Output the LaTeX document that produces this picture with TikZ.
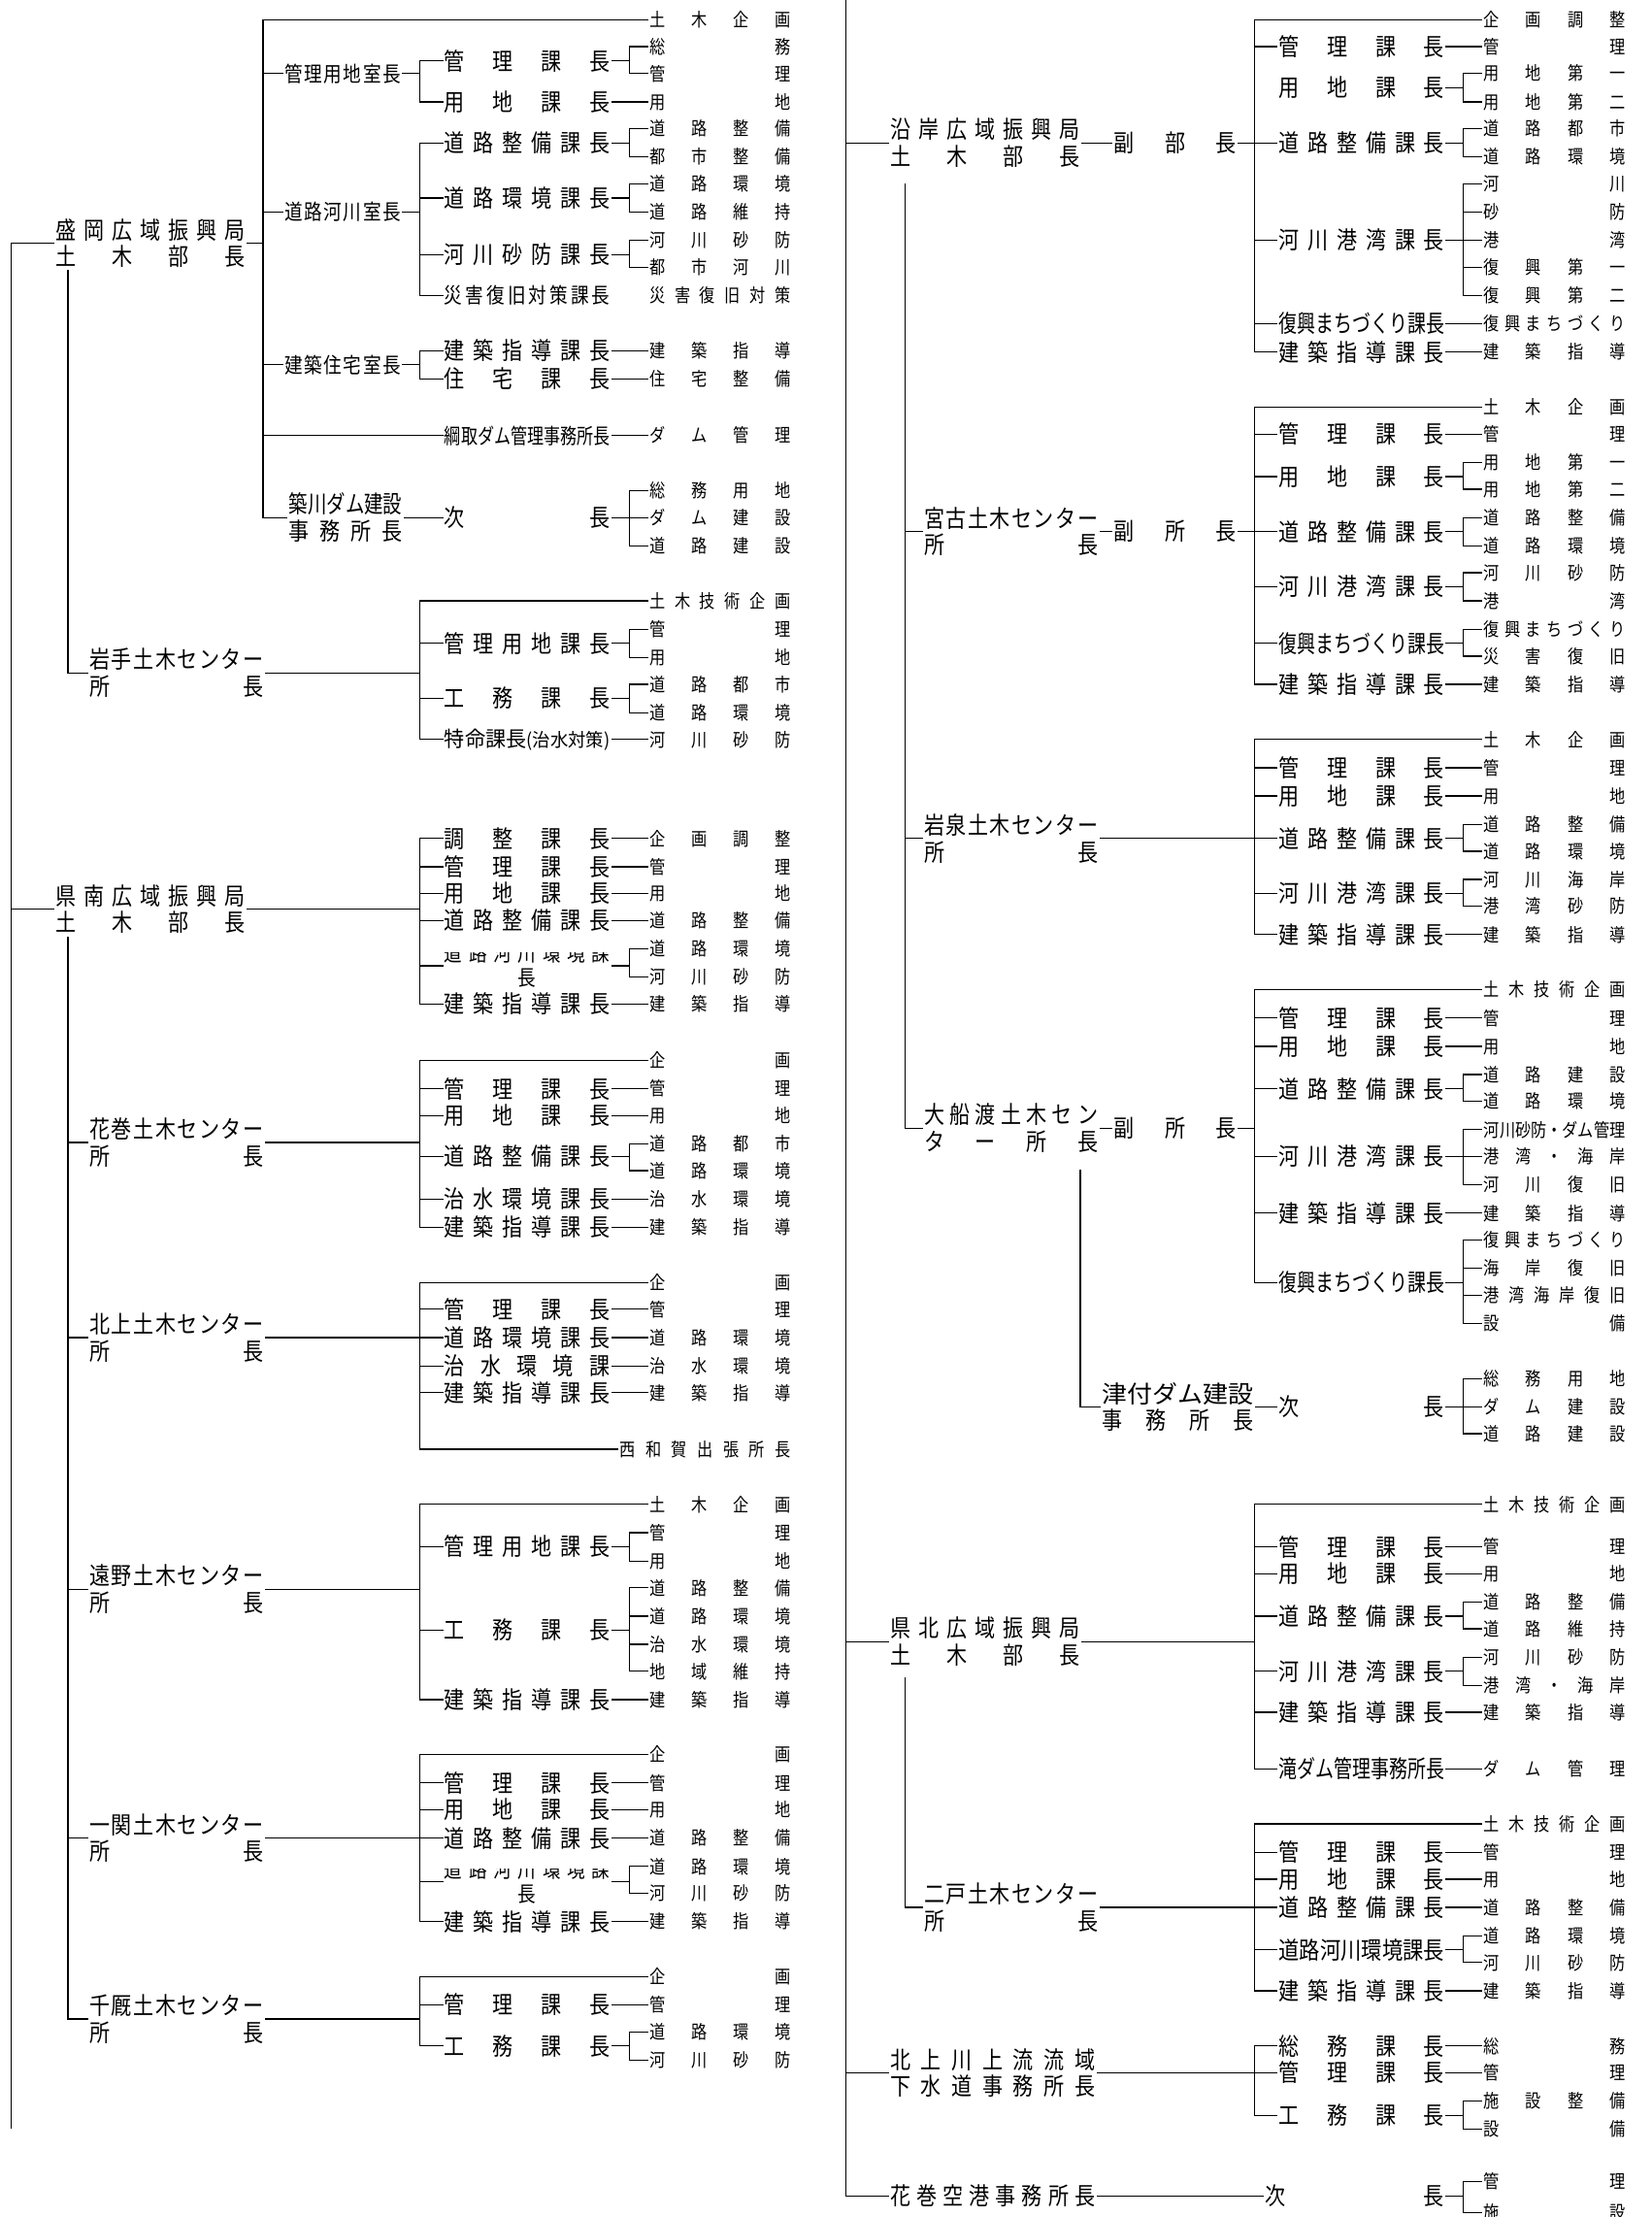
\documentclass[tikz,border=0pt]{standalone}
\usepackage{fontspec}
\usepackage{graphicx}
\setmainfont[FakeStretch=0.85]{Noto Sans CJK JP}
\newlength\unitpx
\setlength\unitpx{0.025cm}
\newcommand\spreadbox[2]{\makebox[#1\unitpx][s]{\spaceskip=0pt plus 1fil\relax #2}}
\newcommand\fitbox[2]{\resizebox{#1\unitpx}{\height}{#2}}
\newcommand\chieffont{\fontsize{12.1pt}{13.5pt}\selectfont}
\newcommand\bossfont{\fontsize{12.1pt}{13.5pt}\selectfont}
\newcommand\minorfont{\fontsize{10.7pt}{12pt}\selectfont}
\newcommand\tipfont{\fontsize{9.3pt}{11pt}\selectfont}
\newcommand\branch[3]{%
  \draw (#1.east) -- (#1.east -| #2);
  \foreach \kid [count=\i] in {#3}{%
    \ifnum\i=1 \xdef\firstkid{\kid}\fi
    \xdef\lastkid{\kid}%
    \draw (\kid.west -| #2) -- (\kid.west);}%
  \draw (\firstkid.west -| #2) -- (\lastkid.west -| #2);}
\tikzset{
  chief/.style={font=\chieffont, align=left},
  boss/.style={font=\bossfont},
  minor/.style={font=\minorfont},
  tip/.style={font=\tipfont},
}
\begin{document}
\begin{tikzpicture}[x=0.025cm, y=-0.025cm, line width=0.6pt, line cap=rect,
  every node/.style={anchor=west, inner sep=0pt, outer xsep=1pt}]
  \useasboundingbox (0,0) rectangle (1168,1568);
  \coordinate (outerL) at (8,0);
  \coordinate (outerLend) at (8,1505);
  \coordinate (busA) at (186,0);
  \coordinate (busB) at (297,0);
  \coordinate (busC) at (445,0);
  \coordinate (m-drop) at (48,191);
  \coordinate (s-drop) at (48,663);

  \node[chief] (morioka) at (38,172) {\spreadbox{134}{盛 岡 広 域 振 興 局}\\\spreadbox{134}{土 木 部 長}};
  \node[chief] (kennan) at (38,643) {\spreadbox{134}{県 南 広 域 振 興 局}\\\spreadbox{134}{土 木 部 長}};
  \foreach \nm/\yy/\tx in {iwate/476/岩 手 土 木 セ ン タ ー, hanamaki/808/花 巻 土 木 セ ン タ ー,
      kitakami/946/北 上 土 木 セ ン タ ー, tono/1124/遠 野 土 木 セ ン タ ー,
      ichinoseki/1300/一 関 土 木 セ ン タ ー, senmaya/1428/千 厩 土 木 セ ン タ ー}
    \node[chief] (\nm) at (62,\yy) {\spreadbox{123}{\tx}\\\spreadbox{123}{所 長}};

  \foreach \nm/\yy/\tx in {m-kanri/52/管 理 用 地 室 長, m-doro/150/道 路 河 川 室 長, m-kenchiku/258/建 築 住 宅 室 長}
    \node[minor] (\nm) at (200,\yy) {\spreadbox{82}{\tx}};
  \node[boss, align=left] (m-yanagawa) at (203,366) {\fitbox{80}{築川ダム建設}\\\spreadbox{80}{事 務 所 長}};

  \foreach \nm/\yy/\tx in {m-kanri1/43/管 理 課 長, m-yochi1/72/用 地 課 長, m-d1/101/道 路 整 備 課 長,
      m-d2/140/道 路 環 境 課 長, m-d3/180/河 川 砂 防 課 長, m-k1/248/建 築 指 導 課 長,
      m-k2/268/住 宅 課 長, m-ysub/366/次 長, i-1/455/管 理 用 地 課 長, i-2/494/工 務 課 長,
      s-1/593/調 整 課 長, s-2/613/管 理 課 長, s-3/632/用 地 課 長, s-4/651/道 路 整 備 課 長,
      s-6/710/建 築 指 導 課 長, h-1/770/管 理 課 長, h-2/789/用 地 課 長, h-3/818/道 路 整 備 課 長,
      h-4/848/治 水 環 境 課 長, h-5/868/建 築 指 導 課 長, k-1/926/管 理 課 長, k-2/946/道 路 環 境 課 長,
      k-3/966/治 水 環 境 課, k-4/985/建 築 指 導 課 長, t-1/1094/管 理 用 地 課 長, t-2/1153/工 務 課 長,
      t-3/1202/建 築 指 導 課 長, c-1/1261/管 理 課 長, c-2/1280/用 地 課 長, c-3/1300/道 路 整 備 課 長,
      c-5/1359/建 築 指 導 課 長, e-1/1418/管 理 課 長, e-2/1447/工 務 課 長}
    \node[boss] (\nm) at (313,\yy) {\spreadbox{117}{\tx}};
  \node[minor] (m-d4) at (313,209) {\spreadbox{117}{災 害 復 旧 対 策 課 長}};
  \node[minor] (m-amitori) at (313,308) {\fitbox{117}{綱取ダム管理事務所長}};
  \node[minor] (i-3) at (313,523) {\fitbox{117}{特命課長{\tipfont(治水対策)}}};
  \begin{scope}
    \clip (300,674) rectangle (440,705);
    \node[minor, align=center] (s-5) at (313,683) {\spreadbox{117}{道 路 河 川 環 境 課}\\長};
  \end{scope}
  \begin{scope}
    \clip (300,1322) rectangle (440,1353);
    \node[minor, align=center] (c-4) at (313,1331) {\spreadbox{117}{道 路 河 川 環 境 課}\\長};
  \end{scope}

  \foreach \nm/\yy/\tx in {m-plan/14/土 木 企 画, m-t1/33/総 務, m-t2/52/管 理, m-t3/72/用 地,
      m-t4/91/道 路 整 備, m-t5/111/都 市 整 備, m-t6/130/道 路 環 境, m-t7/150/道 路 維 持,
      m-t8/170/河 川 砂 防, m-t9/189/都 市 河 川, m-t10/209/災 害 復 旧 対 策, m-t11/248/建 築 指 導,
      m-t12/268/住 宅 整 備, m-t13/308/ダ ム 管 理, m-t14/347/総 務 用 地, m-t15/366/ダ ム 建 設,
      m-t16/386/道 路 建 設, i-plan/425/土 木 技 術 企 画, i-t1/445/管 理, i-t2/465/用 地,
      i-t3/484/道 路 都 市, i-t4/504/道 路 環 境, i-t5/523/河 川 砂 防,
      s-t1/593/企 画 調 整, s-t2/613/管 理, s-t3/632/用 地, s-t4/651/道 路 整 備,
      s-t5/671/道 路 環 境, s-t6/691/河 川 砂 防, s-t7/710/建 築 指 導,
      h-plan/750/企 画, h-t1/770/管 理, h-t2/789/用 地, h-t3/809/道 路 都 市,
      h-t4/828/道 路 環 境, h-t5/848/治 水 環 境, h-t6/868/建 築 指 導,
      k-plan/907/企 画, k-t1/926/管 理, k-t2/946/道 路 環 境, k-t3/966/治 水 環 境, k-t4/985/建 築 指 導,
      t-plan/1064/土 木 企 画, t-t1/1084/管 理, t-t2/1104/用 地, t-t3/1123/道 路 整 備,
      t-t4/1143/道 路 環 境, t-t5/1163/治 水 環 境, t-t6/1182/地 域 維 持, t-t7/1202/建 築 指 導,
      c-plan/1241/企 画, c-t1/1261/管 理, c-t2/1280/用 地, c-t3/1300/道 路 整 備,
      c-t4/1320/道 路 環 境, c-t5/1339/河 川 砂 防, c-t6/1359/建 築 指 導,
      e-plan/1398/企 画, e-t1/1418/管 理, e-t2/1437/道 路 環 境, e-t3/1457/河 川 砂 防}
    \node[tip] (\nm) at (458,\yy) {\spreadbox{100}{\tx}};
  \node[tip] (k-nishiwaga) at (437,1025) {\spreadbox{121}{西 和 賀 出 張 所 長}};

  \draw (morioka.west) -| (outerLend);
  \draw (kennan.west) -- (kennan.west -| outerL);
  \draw (m-drop) |- (iwate.west);
  \draw (s-drop) |- (senmaya.west);
  \foreach \kid in {hanamaki,kitakami,tono,ichinoseki}
    \draw (\kid.west -| s-drop) -- (\kid.west);
  \branch{morioka}{busA}{m-plan,m-kanri,m-doro,m-kenchiku,m-amitori,m-yanagawa}
  \branch{m-kanri}{busB}{m-kanri1,m-yochi1}
  \branch{m-kanri1}{busC}{m-t1,m-t2}
  \branch{m-doro}{busB}{m-d1,m-d2,m-d3,m-d4}
  \branch{m-d1}{busC}{m-t4,m-t5}
  \branch{m-d2}{busC}{m-t6,m-t7}
  \branch{m-d3}{busC}{m-t8,m-t9}
  \branch{m-kenchiku}{busB}{m-k1,m-k2}
  \branch{m-ysub}{busC}{m-t14,m-t15,m-t16}
  \branch{iwate}{busB}{i-plan,i-1,i-2,i-3}
  \branch{i-1}{busC}{i-t1,i-t2}
  \branch{i-2}{busC}{i-t3,i-t4}
  \branch{kennan}{busB}{s-1,s-2,s-3,s-4,s-5,s-6}
  \branch{s-5}{busC}{s-t5,s-t6}
  \branch{hanamaki}{busB}{h-plan,h-1,h-2,h-3,h-4,h-5}
  \branch{h-3}{busC}{h-t3,h-t4}
  \branch{kitakami}{busB}{k-plan,k-1,k-2,k-3,k-4,k-nishiwaga}
  \branch{tono}{busB}{t-plan,t-1,t-2,t-3}
  \branch{t-1}{busC}{t-t1,t-t2}
  \branch{t-2}{busC}{t-t3,t-t4,t-t5,t-t6}
  \branch{ichinoseki}{busB}{c-plan,c-1,c-2,c-3,c-4,c-5}
  \branch{c-4}{busC}{c-t4,c-t5}
  \branch{senmaya}{busB}{e-plan,e-1,e-2}
  \branch{e-2}{busC}{e-t2,e-t3}
  \foreach \a/\b in {m-yochi1/m-t3, m-k1/m-t11, m-k2/m-t12, m-amitori/m-t13, m-yanagawa/m-ysub,
      i-3/i-t5, s-1/s-t1, s-2/s-t2, s-3/s-t3, s-4/s-t4, s-6/s-t7, h-1/h-t1, h-2/h-t2, h-4/h-t5,
      h-5/h-t6, k-1/k-t1, k-2/k-t2, k-3/k-t3, k-4/k-t4, t-3/t-t7, c-1/c-t1, c-2/c-t2, c-3/c-t3,
      c-5/c-t6, e-1/e-t1}
    \draw (\a.east) -- (\b.west);

  \begin{scope}[xshift=14.75cm]
    \coordinate (outerRtop) at (8,0);
    \coordinate (rbusB) at (297,0);
    \coordinate (rbusC) at (445,0);
    \coordinate (n-drop) at (50,130);
    \coordinate (o-drop) at (174,828);
    \coordinate (p-drop) at (50,1187);

    \node[chief] (engan) at (38,101) {\spreadbox{134}{沿 岸 広 域 振 興 局}\\\spreadbox{134}{土 木 部 長}};
    \node[chief] (kenpoku) at (38,1161) {\spreadbox{134}{県 北 広 域 振 興 局}\\\spreadbox{134}{土 木 部 長}};
    \node[chief] (gesui) at (38,1466) {\spreadbox{145}{北 上 川 上 流 流 域}\\\spreadbox{145}{下 水 道 事 務 所 長}};
    \node[chief] (airport) at (38,1553) {\spreadbox{145}{花 巻 空 港 事 務 所 長}};
    \foreach \nm/\yy/\tx in {miyako/376/宮 古 土 木 セ ン タ ー, iwaizumi/593/岩 泉 土 木 セ ン タ ー,
        ninohe/1349/二 戸 土 木 セ ン タ ー}
      \node[chief] (\nm) at (62,\yy) {\spreadbox{123}{\tx}\\\spreadbox{123}{所 長}};
    \node[chief] (ofunato) at (62,798) {\spreadbox{123}{大 船 渡 土 木 セ ン}\\\spreadbox{123}{タ ー 所 長}};
    \foreach \nm/\yy/\tx in {n-dep/101/副 部 長, q-dep/376/副 所 長, o-dep/798/副 所 長}
      \node[boss] (\nm) at (196,\yy) {\spreadbox{87}{\tx}};
    \node[boss, align=left] (tsuzuki) at (188,995) {\fitbox{107}{津付ダム建設}\\\spreadbox{107}{事 務 所 長}};

    \foreach \nm/\yy/\tx in {n-1/33/管 理 課 長, n-2/62/用 地 課 長, n-3/101/道 路 整 備 課 長,
        n-4/170/河 川 港 湾 課 長, n-6/249/建 築 指 導 課 長, q-1/307/管 理 課 長, q-2/337/用 地 課 長,
        q-3/376/道 路 整 備 課 長, q-4/415/河 川 港 湾 課 長, q-6/484/建 築 指 導 課 長,
        w-1/543/管 理 課 長, w-2/563/用 地 課 長, w-3/593/道 路 整 備 課 長, w-4/632/河 川 港 湾 課 長,
        w-5/661/建 築 指 導 課 長, o-1/720/管 理 課 長, o-2/740/用 地 課 長, o-3/770/道 路 整 備 課 長,
        o-4/818/河 川 港 湾 課 長, o-5/858/建 築 指 導 課 長, o-sub/995/次 長,
        p-1/1094/管 理 課 長, p-2/1113/用 地 課 長, p-3/1143/道 路 整 備 課 長, p-4/1182/河 川 港 湾 課 長,
        p-5/1211/建 築 指 導 課 長, r-1/1310/管 理 課 長, r-2/1329/用 地 課 長, r-3/1349/道 路 整 備 課 長,
        r-5/1408/建 築 指 導 課 長, g-1/1447/総 務 課 長, g-2/1466/管 理 課 長, g-3/1496/工 務 課 長}
      \node[boss] (\nm) at (313,\yy) {\spreadbox{117}{\tx}};
    \foreach \nm/\yy/\tx in {n-5/229/復興まちづくり課長, q-5/455/復興まちづくり課長, o-6/907/復興まちづくり課長,
        p-6/1251/滝ダム管理事務所長, r-4/1379/道路河川環境課長}
      \node[boss] (\nm) at (313,\yy) {\fitbox{117}{\tx}};
    \node[boss] (a-sub) at (303,1553) {\spreadbox{127}{次 長}};

    \foreach \nm/\yy/\tx in {n-plan/14/企 画 調 整, n-t1/33/管 理, n-t2/52/用 地 第 一, n-t3/72/用 地 第 二,
        n-t4/91/道 路 都 市, n-t5/111/道 路 環 境, n-t6/130/河 川, n-t7/150/砂 防, n-t8/170/港 湾,
        n-t9/189/復 興 第 一, n-t10/209/復 興 第 二, n-t11/229/復 興 ま ち づ く り, n-t12/249/建 築 指 導,
        q-plan/288/土 木 企 画, q-t1/307/管 理, q-t2/327/用 地 第 一, q-t3/346/用 地 第 二,
        q-t4/366/道 路 整 備, q-t5/386/道 路 環 境, q-t6/405/河 川 砂 防, q-t7/425/港 湾,
        q-t8/445/復 興 ま ち づ く り, q-t9/464/災 害 復 旧, q-t10/484/建 築 指 導,
        w-plan/523/土 木 企 画, w-t1/543/管 理, w-t2/563/用 地, w-t3/583/道 路 整 備,
        w-t4/602/道 路 環 境, w-t5/622/河 川 海 岸, w-t6/641/港 湾 砂 防, w-t7/661/建 築 指 導,
        o-plan/700/土 木 技 術 企 画, o-t1/720/管 理, o-t2/740/用 地, o-t3/760/道 路 建 設,
        o-t4/779/道 路 環 境, o-t6/818/港 湾 ・ 海 岸, o-t7/838/河 川 復 旧, o-t8/858/建 築 指 導,
        o-t9/877/復 興 ま ち づ く り, o-t10/897/海 岸 復 旧, o-t11/916/港 湾 海 岸 復 旧, o-t12/936/設 備,
        o-t13/975/総 務 用 地, o-t14/995/ダ ム 建 設, o-t15/1014/道 路 建 設,
        p-plan/1064/土 木 技 術 企 画, p-t1/1094/管 理, p-t2/1113/用 地, p-t3/1133/道 路 整 備,
        p-t4/1152/道 路 維 持, p-t5/1172/河 川 砂 防, p-t6/1192/港 湾 ・ 海 岸, p-t7/1211/建 築 指 導,
        p-t8/1251/ダ ム 管 理, r-plan/1290/土 木 技 術 企 画, r-t1/1310/管 理, r-t2/1329/用 地,
        r-t3/1349/道 路 整 備, r-t4/1369/道 路 環 境, r-t5/1388/河 川 砂 防, r-t6/1408/建 築 指 導,
        g-t1/1447/総 務, g-t2/1466/管 理, g-t3/1486/施 設 整 備, g-t4/1506/設 備,
        a-t1/1543/管 理, a-t2/1565/施 設}
      \node[tip] (\nm) at (458,\yy) {\spreadbox{100}{\tx}};
    \node[tip] (o-t5) at (458,799) {\fitbox{100}{河川砂防・ダム管理}};

    \draw (outerRtop) |- (airport.west);
    \foreach \kid in {engan,kenpoku,gesui}
      \draw (\kid.west -| outerRtop) -- (\kid.west);
    \draw (n-drop) |- (ofunato.west);
    \foreach \kid in {miyako,iwaizumi}
      \draw (\kid.west -| n-drop) -- (\kid.west);
    \draw (o-drop) |- (tsuzuki.west);
    \draw (p-drop) |- (ninohe.west);
    \branch{n-dep}{rbusB}{n-plan,n-1,n-3,n-4,n-5,n-6}
    \branch{n-2}{rbusC}{n-t2,n-t3}
    \branch{n-3}{rbusC}{n-t4,n-t5}
    \branch{n-4}{rbusC}{n-t6,n-t7,n-t8,n-t9,n-t10}
    \branch{q-dep}{rbusB}{q-plan,q-1,q-2,q-3,q-4,q-5,q-6}
    \branch{q-2}{rbusC}{q-t2,q-t3}
    \branch{q-3}{rbusC}{q-t4,q-t5}
    \branch{q-4}{rbusC}{q-t6,q-t7}
    \branch{q-5}{rbusC}{q-t8,q-t9}
    \branch{iwaizumi}{rbusB}{w-plan,w-1,w-2,w-3,w-4,w-5}
    \branch{w-3}{rbusC}{w-t3,w-t4}
    \branch{w-4}{rbusC}{w-t5,w-t6}
    \branch{o-dep}{rbusB}{o-plan,o-1,o-2,o-3,o-4,o-5,o-6}
    \branch{o-3}{rbusC}{o-t3,o-t4}
    \branch{o-4}{rbusC}{o-t5,o-t6,o-t7}
    \branch{o-6}{rbusC}{o-t9,o-t10,o-t11,o-t12}
    \branch{o-sub}{rbusC}{o-t13,o-t14,o-t15}
    \branch{kenpoku}{rbusB}{p-plan,p-1,p-2,p-3,p-4,p-5,p-6}
    \branch{p-3}{rbusC}{p-t3,p-t4}
    \branch{p-4}{rbusC}{p-t5,p-t6}
    \branch{ninohe}{rbusB}{r-plan,r-1,r-2,r-3,r-4,r-5}
    \branch{r-4}{rbusC}{r-t4,r-t5}
    \branch{gesui}{rbusB}{g-1,g-2,g-3}
    \branch{g-3}{rbusC}{g-t3,g-t4}
    \branch{a-sub}{rbusC}{a-t1,a-t2}
    \foreach \a/\b in {engan/n-dep, n-1/n-t1, n-5/n-t11, n-6/n-t12, miyako/q-dep, q-1/q-t1, q-6/q-t10,
        w-1/w-t1, w-2/w-t2, w-5/w-t7, ofunato/o-dep, o-1/o-t1, o-2/o-t2, o-5/o-t8, tsuzuki/o-sub,
        p-1/p-t1, p-2/p-t2, p-5/p-t7, p-6/p-t8, r-1/r-t1, r-2/r-t2, r-3/r-t3, r-5/r-t6,
        g-1/g-t1, g-2/g-t2, airport/a-sub}
      \draw (\a.east) -- (\b.west);
  \end{scope}
\end{tikzpicture}
\end{document}
